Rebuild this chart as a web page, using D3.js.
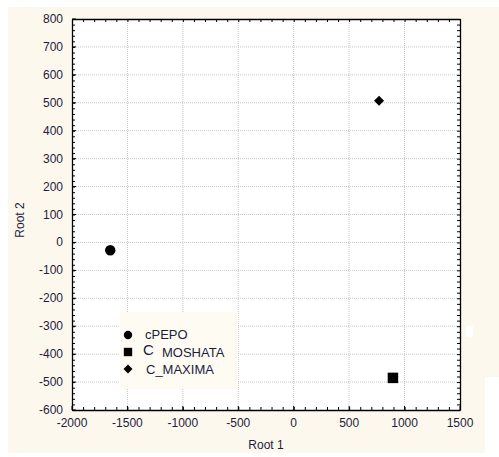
<!DOCTYPE html>
<html>
<head>
<meta charset="utf-8">
<script src="https://cdn.jsdelivr.net/npm/d3@7"></script>
<style>
  body { margin: 0; background: #fff; }
  text { font-family: "Liberation Sans", Arial, sans-serif; }
</style>
</head>
<body>
<div class="container"></div>
<script>
// canonical scores, root 1 vs root 2

const groups = ["cPEPO", "C_MOSHATA", "C_MAXIMA"];
const root1 = [-1655, 895, 770];
const root2 = [-28, -485, 507];
const shapes = [d3.symbolCircle, d3.symbolSquare, d3.symbolSquare];
const turns = [0, 0, 45]; // diamond = square turned 45deg

const xTicks = [-2000, -1500, -1000, -500, 0, 500, 1000, 1500];
const yTicks = [800, 700, 600, 500, 400, 300, 200, 100, 0, -100, -200, -300, -400, -500, -600];

let w = 499;
let h = 457;
const margin = { top: 19, bottom: 47, left: 72, right: 39 };

const svg = d3.select(".container")
  .append("svg")
  .attr("width", w)
  .attr("height", h);

// cream backdrop like the original screenshot
svg.append("rect")
  .attr("x", 8).attr("y", 7)
  .attr("width", w - 8).attr("height", 446)
  .attr("fill", "#fdf8ee");
svg.append("rect")
  .attr("x", 485).attr("y", 377)
  .attr("width", 14).attr("height", 76)
  .attr("fill", "#ffffff");
svg.append("rect")
  .attr("x", 466).attr("y", 326)
  .attr("width", 7).attr("height", 11)
  .attr("fill", "#ffffff");

const xScale = d3.scaleLinear()
  .domain([-2000, 1500])
  .range([margin.left, w - margin.right]);

const yScale = d3.scaleLinear()
  .domain([-600, 800])
  .range([h - margin.bottom, margin.top]);

const x0 = xScale.range()[0], x1 = xScale.range()[1];
const y0 = yScale.range()[0], y1 = yScale.range()[1];

svg.append("rect")
  .attr("x", x0).attr("y", y1)
  .attr("width", x1 - x0).attr("height", y0 - y1)
  .attr("fill", "#ffffff");

// dotted grid
svg.append("g")
  .selectAll("line")
  .data(xTicks.slice(1, -1))
  .join("line")
  .attr("x1", (d) => xScale(d)).attr("x2", (d) => xScale(d))
  .attr("y1", y1).attr("y2", y0)
  .attr("stroke", "#c8c8c8")
  .attr("stroke-dasharray", "1,1");

svg.append("g")
  .selectAll("line")
  .data(yTicks.slice(1, -1))
  .join("line")
  .attr("x1", x0).attr("x2", x1)
  .attr("y1", (d) => yScale(d)).attr("y2", (d) => yScale(d))
  .attr("stroke", "#c8c8c8")
  .attr("stroke-dasharray", "1,1");

// axes on all four sides, ticks pointing inward
const xMinor = d3.range(-2000, 1501, 100);
const yMinor = d3.range(-600, 801, 20);

const axisStyle = (g) => {
  g.select(".domain").attr("stroke", "#000").attr("stroke-width", 1.3);
  g.selectAll(".tick line").attr("stroke", "#000");
};

svg.append("g")
  .attr("transform", `translate(0,${y0})`)
  .call(d3.axisBottom(xScale).tickValues(xMinor).tickSize(-3).tickSizeOuter(0).tickFormat(""))
  .call(axisStyle);
svg.append("g")
  .attr("transform", `translate(0,${y1})`)
  .call(d3.axisTop(xScale).tickValues(xMinor).tickSize(-3).tickSizeOuter(0).tickFormat(""))
  .call(axisStyle);
svg.append("g")
  .attr("transform", `translate(${x0},0)`)
  .call(d3.axisLeft(yScale).tickValues(yMinor).tickSize(-3).tickSizeOuter(0).tickFormat(""))
  .call(axisStyle);
svg.append("g")
  .attr("transform", `translate(${x1},0)`)
  .call(d3.axisRight(yScale).tickValues(yMinor).tickSize(-3).tickSizeOuter(0).tickFormat(""))
  .call(axisStyle);

// major tick marks slightly longer
svg.append("g")
  .selectAll("line")
  .data(xTicks)
  .join("line")
  .attr("x1", (d) => xScale(d)).attr("x2", (d) => xScale(d))
  .attr("y1", y0).attr("y2", y0 - 4)
  .attr("stroke", "#000");
svg.append("g")
  .selectAll("line")
  .data(yTicks)
  .join("line")
  .attr("x1", x0).attr("x2", x0 + 4)
  .attr("y1", (d) => yScale(d)).attr("y2", (d) => yScale(d))
  .attr("stroke", "#000");

// tick labels
svg.append("g")
  .selectAll("text")
  .data(xTicks)
  .join("text")
  .text((d) => d)
  .attr("x", (d) => xScale(d))
  .attr("y", y0 + 17)
  .attr("text-anchor", "middle")
  .attr("font-size", "12px")
  .attr("fill", "#1c1c3c");

svg.append("g")
  .selectAll("text")
  .data(yTicks)
  .join("text")
  .text((d) => d)
  .attr("x", x0 - 9)
  .attr("y", (d) => yScale(d) + 4)
  .attr("text-anchor", "end")
  .attr("font-size", "12px")
  .attr("fill", "#1c1c3c");

svg.append("text")
  .text("Root 1")
  .attr("x", (x0 + x1) / 2)
  .attr("y", 449)
  .attr("text-anchor", "middle")
  .attr("font-size", "12px")
  .attr("fill", "#1c1c3c");

svg.append("text")
  .text("Root 2")
  .attr("transform", `translate(24,${220}) rotate(-90)`)
  .attr("text-anchor", "middle")
  .attr("font-size", "12px")
  .attr("fill", "#1c1c3c");

// points
svg.append("g")
  .selectAll("path")
  .data(groups)
  .join("path")
  .attr("d", (d, i) => d3.symbol(shapes[i], i === 1 ? 110 : i === 2 ? 50 : 85)())
  .attr("transform", (d, i) => `translate(${xScale(root1[i])},${yScale(root2[i])}) rotate(${turns[i]})`)
  .attr("fill", "#000");

// legend
const lg = svg.append("g").attr("transform", "translate(120,312)");
lg.append("rect")
  .attr("width", 118).attr("height", 77)
  .attr("fill", "#fefbf3");
lg.selectAll("path")
  .data(groups)
  .join("path")
  .attr("d", (d, i) => d3.symbol(shapes[i], i === 1 ? 70 : i === 2 ? 40 : 55)())
  .attr("transform", (d, i) => `translate(8,${23 + i * 17}) rotate(${turns[i]})`)
  .attr("fill", "#000");

lg.append("text").text("cPEPO")
  .attr("x", 25).attr("y", 27)
  .attr("font-size", "13px").attr("fill", "#1c1c3c");
lg.append("text").text("C")
  .attr("x", 23).attr("y", 43)
  .attr("font-size", "15px").attr("fill", "#1c1c3c");
lg.append("rect")
  .attr("x", 33).attr("y", 43).attr("width", 6).attr("height", 5)
  .attr("fill", "#ffffff");
lg.append("text").text("MOSHATA")
  .attr("x", 42).attr("y", 45)
  .attr("font-size", "13px").attr("fill", "#1c1c3c");
lg.append("text").text("C_MAXIMA")
  .attr("x", 26).attr("y", 62)
  .attr("font-size", "13px").attr("fill", "#1c1c3c");
</script>
</body>
</html>
